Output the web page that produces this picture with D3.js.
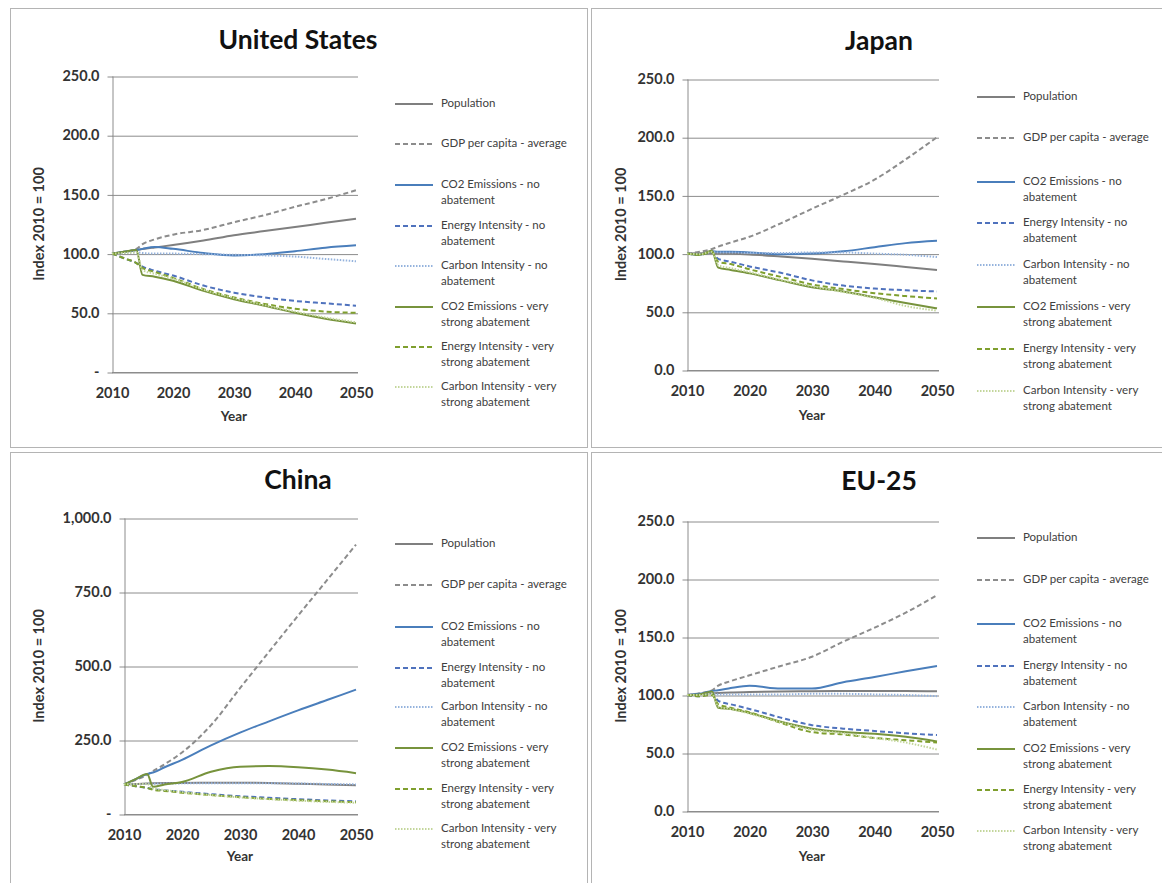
<!DOCTYPE html>
<html><head><meta charset="utf-8">
<script src="https://cdn.jsdelivr.net/npm/d3@7"></script>
<style>
body{margin:0;background:#fff;}
svg{display:block;font-family:Lato,"Open Sans",sans-serif;}
</style>
</head><body>
<svg id="chart" width="1162" height="883"></svg>
<script>
// ---------- DATA ----------
const YEARS = [2010, 2012, 2014, 2015, 2017, 2020, 2025, 2030, 2035, 2040, 2045, 2050];
const X_TICKS = [2010, 2020, 2030, 2040, 2050];

const SERIES_LABELS = [
  ["Population"],
  ["GDP per capita - average"],
  ["CO2 Emissions - no", "abatement"],
  ["Energy Intensity - no", "abatement"],
  ["Carbon Intensity - no", "abatement"],
  ["CO2 Emissions - very", "strong abatement"],
  ["Energy Intensity - very", "strong abatement"],
  ["Carbon Intensity - very", "strong abatement"]
];

// United States
const US_POPULATION = [100, 101.5, 103, 103.8, 105.2, 107.2, 111, 115.5, 119, 122.5, 126, 129.5];
const US_GDP        = [100, 101.5, 104, 108, 112, 116, 120, 126.5, 132.5, 139.5, 146, 153.5];
const US_CO2_NO     = [100, 101.5, 103, 104, 105.5, 104, 100.5, 98.5, 99.5, 102, 105, 107];
const US_EI_NO      = [100, 96, 92, 89, 85.5, 81.5, 73, 67, 63, 60, 58, 56];
const US_CI_NO      = [100, 100.5, 101, 100.5, 100, 100, 99.5, 99, 98.5, 97.5, 95.5, 93.5];
const US_CO2_VERY   = [100, 101.5, 103, 82, 80.5, 77, 68.5, 61.5, 56, 50, 45, 41];
const US_EI_VERY    = [100, 96, 92, 88, 84.5, 79.5, 70, 63, 57.5, 53.5, 51, 50];
const US_CI_VERY    = [100, 100.5, 101, 86, 83, 79, 69.5, 62.5, 56.5, 51, 46, 42];
const US_Y_TICKS  = [0, 50, 100, 150, 200, 250];
const US_Y_LABELS = ["-", "50.0", "100.0", "150.0", "200.0", "250.0"];

// Japan
const JP_POPULATION = [100, 100.3, 100.5, 100.3, 100, 99.3, 97.5, 95.5, 93.3, 91, 88.5, 86];
const JP_GDP        = [100, 101.5, 104, 106, 109.5, 114.5, 126, 138.5, 150.5, 163.5, 181, 200];
const JP_CO2_NO     = [100, 99, 102, 101.5, 101.5, 101, 99.5, 100, 102, 105.5, 109, 111];
const JP_EI_NO      = [100, 99, 101, 95.5, 93, 89, 83.5, 77, 72.5, 70, 68.5, 67.5];
const JP_CI_NO      = [100, 99.5, 101.5, 101, 101, 100.5, 100.5, 101, 101, 100, 99, 97];
const JP_CO2_VERY   = [100, 99, 102.5, 88, 86, 83, 77, 71, 67.5, 62.5, 57.5, 53];
const JP_EI_VERY    = [100, 99, 101, 93, 91, 86.5, 80, 73.5, 69.5, 66, 63.5, 61.5];
const JP_CI_VERY    = [100, 99.5, 101.5, 90, 87.5, 84, 77.5, 72, 67, 62, 55, 51];
const JP_Y_TICKS  = [0, 50, 100, 150, 200, 250];
const JP_Y_LABELS = ["0.0", "50.0", "100.0", "150.0", "200.0", "250.0"];

// China
const CN_POPULATION = [100, 101.5, 103, 103.5, 104.5, 105, 105.5, 105.5, 105, 102.5, 100, 97];
const CN_GDP        = [100, 115, 132, 145, 168, 208, 300, 425, 548, 670, 790, 910];
const CN_CO2_NO     = [100, 118, 135, 140, 158, 183, 232, 275, 313, 350, 385, 420];
const CN_EI_NO      = [100, 94, 88, 84, 80, 75, 67, 60, 55, 50, 46, 43];
const CN_CI_NO      = [100, 101, 102, 102.5, 103, 103.5, 104, 104, 104, 103, 101.5, 100];
const CN_CO2_VERY   = [100, 118, 135, 92, 100, 108, 143, 160, 162, 158, 150, 138];
const CN_EI_VERY    = [100, 94, 88, 82, 78, 72, 64, 57, 51, 47, 43, 40];
const CN_CI_VERY    = [100, 101, 102, 86, 81, 74, 64, 56, 50, 45, 41, 38];
const CN_Y_TICKS  = [0, 250, 500, 750, 1000];
const CN_Y_LABELS = ["-", "250.0", "500.0", "750.0", "1,000.0"];

// EU-25
const EU_POPULATION = [100, 100.8, 101.5, 101.8, 102.2, 102.5, 103, 103.3, 103.5, 103.5, 103.5, 103.2];
const EU_GDP        = [100, 101.5, 104, 108, 112, 117, 125, 133, 146, 158, 171, 186];
const EU_CO2_NO     = [100, 101, 103.5, 104, 106, 108, 105.5, 105.5, 111, 115.5, 120.5, 125];
const EU_EI_NO      = [100, 99, 101, 95, 92, 88, 80.5, 74, 71, 69, 67, 65.5];
const EU_CI_NO      = [100, 100, 101, 100.5, 100.5, 100.5, 100.5, 101, 101, 100.5, 100, 99];
const EU_CO2_VERY   = [100, 100.5, 103, 89, 88, 84.5, 77, 71, 68, 66.5, 64, 60];
const EU_EI_VERY    = [100, 99, 100, 92, 89, 85, 76, 68, 66, 63, 61, 59];
const EU_CI_VERY    = [100, 100, 101, 90, 88, 84, 76.5, 70, 67, 63, 59, 53];
const EU_Y_TICKS  = [0, 50, 100, 150, 200, 250];
const EU_Y_LABELS = ["0.0", "50.0", "100.0", "150.0", "200.0", "250.0"];

// ---------- STYLES ----------
const STYLES = [
  {color: "#7f7f7f", dash: null,  width: 2},
  {color: "#8c8c8c", dash: "5,3", width: 2},
  {color: "#4a7ebb", dash: null,  width: 2},
  {color: "#4f72bd", dash: "5,3", width: 2},
  {color: "#95b3dd", dash: "1.5,1.5", width: 2},
  {color: "#77933c", dash: null,  width: 2},
  {color: "#7f9f2e", dash: "5,3", width: 2},
  {color: "#c3d69b", dash: "1.5,1.5", width: 2}
];

const PANELS = [
  {title: "United States", box: [10, 8, 577, 439], left: 112, right: 356, top: 76, bottom: 372,
   yMax: 250, ticks: US_Y_TICKS, labels: US_Y_LABELS, titleX: 298, titleY: 42,
   yTitleX: 40, xLabelY: 394, yearY: 418, legX: 395, legY: [104, 144, 185, 226, 266, 307, 347, 387],
   series: [US_POPULATION, US_GDP, US_CO2_NO, US_EI_NO, US_CI_NO, US_CO2_VERY, US_EI_VERY, US_CI_VERY]},
  {title: "Japan", box: [591, 8, 580, 439], left: 687, right: 937, top: 79, bottom: 370,
   yMax: 250, ticks: JP_Y_TICKS, labels: JP_Y_LABELS, titleX: 879, titleY: 43,
   yTitleX: 622, xLabelY: 392, yearY: 417, legX: 977, legY: [97, 138, 182, 223, 265, 307, 349, 391],
   series: [JP_POPULATION, JP_GDP, JP_CO2_NO, JP_EI_NO, JP_CI_NO, JP_CO2_VERY, JP_EI_VERY, JP_CI_VERY]},
  {title: "China", box: [10, 452, 577, 440], left: 124, right: 356, top: 518, bottom: 814,
   yMax: 1000, ticks: CN_Y_TICKS, labels: CN_Y_LABELS, titleX: 298, titleY: 482,
   yTitleX: 40, xLabelY: 836, yearY: 858, legX: 395, legY: [544, 585, 627, 668, 707, 748, 789, 829],
   series: [CN_POPULATION, CN_GDP, CN_CO2_NO, CN_EI_NO, CN_CI_NO, CN_CO2_VERY, CN_EI_VERY, CN_CI_VERY]},
  {title: "EU-25", box: [591, 452, 580, 440], left: 687, right: 937, top: 521, bottom: 811,
   yMax: 250, ticks: EU_Y_TICKS, labels: EU_Y_LABELS, titleX: 879, titleY: 483,
   yTitleX: 622, xLabelY: 833, yearY: 858, legX: 977, legY: [538, 580, 624, 666, 707, 749, 790, 831],
   series: [EU_POPULATION, EU_GDP, EU_CO2_NO, EU_EI_NO, EU_CI_NO, EU_CO2_VERY, EU_EI_VERY, EU_CI_VERY]}
];

const svg = d3.select("#chart");
const GRID = "#8c8c8c";
const TEXT = "#333333";

PANELS.forEach(p => {
  const g = svg.append("g");
  g.append("rect").attr("x", p.box[0] + 0.5).attr("y", p.box[1] + 0.5)
    .attr("width", p.box[2]).attr("height", p.box[3])
    .attr("fill", "#fff").attr("stroke", "#b4b4b4").attr("stroke-width", 1);

  const x = d3.scaleLinear().domain([2010, 2050]).range([p.left, p.right]);
  const y = d3.scaleLinear().domain([0, p.yMax]).range([p.bottom, p.top]);
  const plotW = p.right + 2 - p.left;

  // gridlines
  const grid = g.append("g").attr("transform", `translate(${p.left},0)`)
    .call(d3.axisLeft(y).tickValues(p.ticks).tickSize(-plotW).tickFormat(""));
  grid.select(".domain").remove();
  grid.selectAll("line").attr("stroke", GRID).attr("stroke-width", 1)
    .attr("transform", "translate(0,0.5)");

  // y axis with tick marks and labels
  const yAx = g.append("g").attr("transform", `translate(${p.left + 0.5},0)`)
    .call(d3.axisLeft(y).tickValues(p.ticks).tickSize(5).tickSizeOuter(0).tickPadding(8)
      .tickFormat((d, i) => p.labels[i]));
  yAx.select(".domain").attr("stroke", GRID);
  yAx.selectAll("line").attr("stroke", GRID).attr("transform", "translate(0,0.5)");
  yAx.selectAll("text").attr("font-family", "Lato, sans-serif").attr("font-size", 14.5)
    .attr("font-weight", "bold").attr("fill", TEXT);

  // x axis
  const xAx = g.append("g").attr("transform", `translate(0,${p.bottom + 0.5})`)
    .call(d3.axisBottom(x).tickValues(X_TICKS).tickSize(0).tickSizeOuter(0).tickFormat(d3.format("d")));
  xAx.select(".domain").attr("stroke", GRID).attr("d", `M${p.left},0H${p.right + 2}`);
  xAx.selectAll("text").attr("font-family", "Lato, sans-serif").attr("font-size", 14.5)
    .attr("font-weight", "bold").attr("fill", TEXT)
    .attr("dy", null).attr("y", p.xLabelY - p.bottom).attr("dominant-baseline", "middle");

  // titles
  g.append("text").attr("x", p.titleX).attr("y", p.titleY).attr("text-anchor", "middle")
    .attr("dominant-baseline", "middle").attr("font-size", 26.5).attr("font-weight", "bold")
    .attr("fill", "#111").text(p.title);
  g.append("text").attr("x", (p.left + p.right) / 2).attr("y", p.yearY).attr("text-anchor", "middle")
    .attr("dominant-baseline", "middle").attr("font-size", 13.5).attr("font-weight", "bold")
    .attr("fill", TEXT).text("Year");
  g.append("text").attr("transform", `translate(${p.yTitleX},${(p.top + p.bottom) / 2}) rotate(-90)`)
    .attr("text-anchor", "middle").attr("dominant-baseline", "middle")
    .attr("font-size", 14.5).attr("font-weight", "bold").attr("fill", TEXT).text("Index 2010 = 100");

  // series lines
  const line = d3.line().x(d => x(d[0])).y(d => y(d[1])).curve(d3.curveMonotoneX);
  p.series.forEach((vals, i) => {
    const st = STYLES[i];
    g.append("path").datum(YEARS.map((yr, k) => [yr, vals[k]]))
      .attr("d", line).attr("fill", "none").attr("stroke", st.color)
      .attr("stroke-width", st.width).attr("stroke-dasharray", st.dash)
      .attr("stroke-linejoin", "round");
  });

  // legend
  SERIES_LABELS.forEach((lab, i) => {
    const st = STYLES[i];
    const ly = p.legY[i];
    g.append("line").attr("x1", p.legX).attr("x2", p.legX + 38).attr("y1", ly).attr("y2", ly)
      .attr("stroke", st.color).attr("stroke-width", st.width).attr("stroke-dasharray", st.dash);
    const t = g.append("text").attr("x", p.legX + 46).attr("y", ly).attr("dominant-baseline", "middle")
      .attr("font-size", 11.5).attr("fill", "#404040");
    lab.forEach((s, k) => {
      t.append("tspan").attr("x", p.legX + 46).attr("dy", k === 0 ? 0 : 15.5).text(s);
    });
  });
});
</script>
</body></html>
